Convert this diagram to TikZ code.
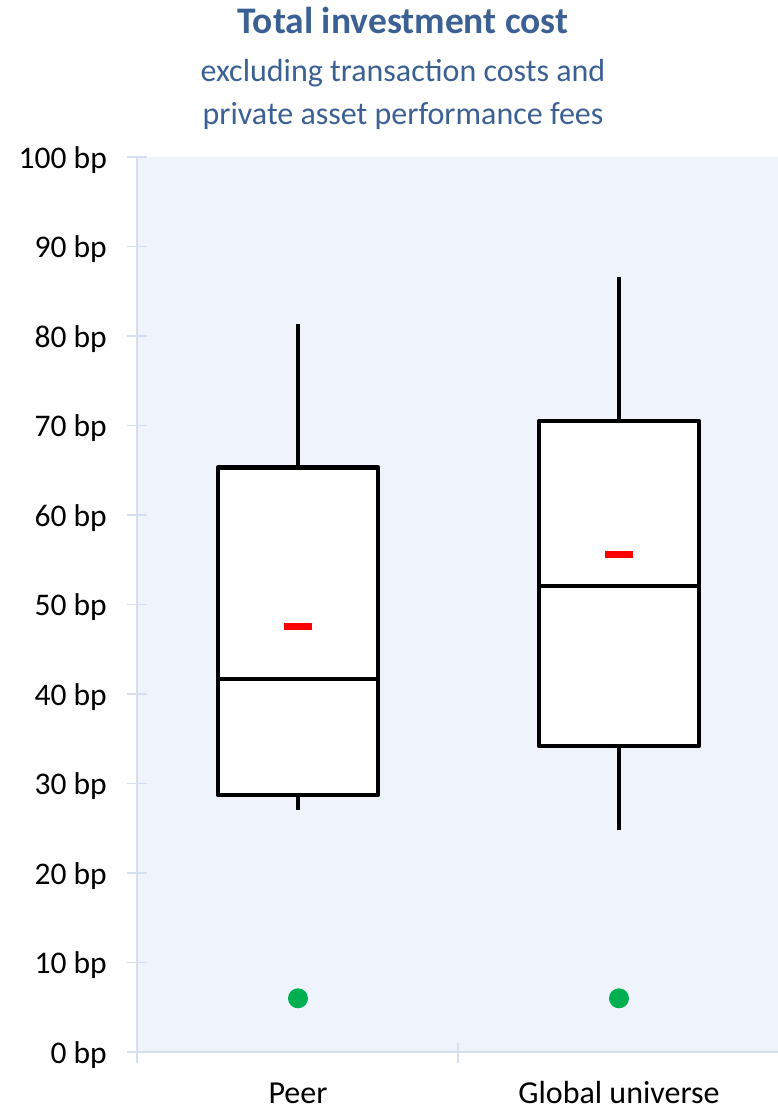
\documentclass[tikz,border=0pt]{standalone}
\usepackage{fontspec}
\setmainfont{Carlito}
\definecolor{titleblue}{RGB}{59,96,148}
\definecolor{plotbg}{RGB}{239,244,252}
\definecolor{axisc}{RGB}{214,223,240}
\definecolor{meanred}{RGB}{255,0,0}
\definecolor{dotgreen}{RGB}{0,176,80}
\begin{document}
\begin{tikzpicture}[x=1pt,y=-1pt,
  ticklab/.style={anchor=base east,inner sep=0pt,font=\fontsize{31.5}{31.5}\selectfont},
  catlab/.style={anchor=base,inner sep=0pt,font=\fontsize{32}{32}\selectfont},
  subt/.style={anchor=base,inner sep=0pt,text=titleblue,font=\fontsize{32}{32}\selectfont},
  axisline/.style={draw=axisc,line width=1.2pt},
  boxline/.style={draw=black,fill=white,line width=4.6pt,line join=round},
  whisk/.style={draw=black,line width=4pt},
  meanmark/.style={draw=meanred,line width=7pt},
  outdot/.style={fill=dotgreen}]
\useasboundingbox (0,0) rectangle (778,1106);
\def\vy#1{{1052-8.95*(#1)}}
% plot area
\fill[plotbg] (137,157) rectangle (778,1052);
% axes
\draw[axisline] (137,157) -- (137,1063);
\draw[axisline] (127,1052) -- (778,1052);
\draw[axisline] (458,1043) -- (458,1063);
\foreach \v in {0,10,...,100}{
  \draw[axisline] (127,\vy{\v}) -- (147,\vy{\v});
  \node[ticklab] (t\v) at (107,{1052-8.95*\v+11}) {\v\ bp};
}
% titles
\node[anchor=base,inner sep=0pt,text=titleblue,font=\fontsize{37.5}{37.5}\selectfont\bfseries] (title) at (403,33) {Total investment cost};
\node[subt] (sub1) at (403,81) {excluding transaction costs and};
\node[subt] (sub2) at (403,124) {private asset performance fees};
% Peer box
\coordinate (pwt) at (298,\vy{81.3});
\coordinate (pbt) at (298,\vy{65.3});
\coordinate (pbb) at (298,\vy{28.7});
\coordinate (pwb) at (298,\vy{27.0});
\draw[whisk] (pwt) -- (pbt);
\draw[whisk] (pbb) -- (pwb);
\draw[boxline] (218,\vy{65.3}) rectangle (378,\vy{28.7});
\draw[line width=4.2pt] (218,\vy{41.7}) -- (378,\vy{41.7});
\draw[meanmark] (284,\vy{47.5}) -- (312,\vy{47.5});
\fill[outdot] (298,\vy{6.0}) circle (10);
% Global box
\coordinate (gwt) at (619,\vy{86.6});
\coordinate (gbt) at (619,\vy{70.5});
\coordinate (gbb) at (619,\vy{34.2});
\coordinate (gwb) at (619,\vy{24.8});
\draw[whisk] (gwt) -- (gbt);
\draw[whisk] (gbb) -- (gwb);
\draw[boxline] (539,\vy{70.5}) rectangle (699,\vy{34.2});
\draw[line width=4.2pt] (539,\vy{52.1}) -- (699,\vy{52.1});
\draw[meanmark] (605,\vy{55.6}) -- (633,\vy{55.6});
\fill[outdot] (619,\vy{6.0}) circle (10);
% categories
\node[catlab] (c1) at (298,1103) {Peer};
\node[catlab] (c2) at (619,1103) {Global universe};
\end{tikzpicture}
\end{document}
